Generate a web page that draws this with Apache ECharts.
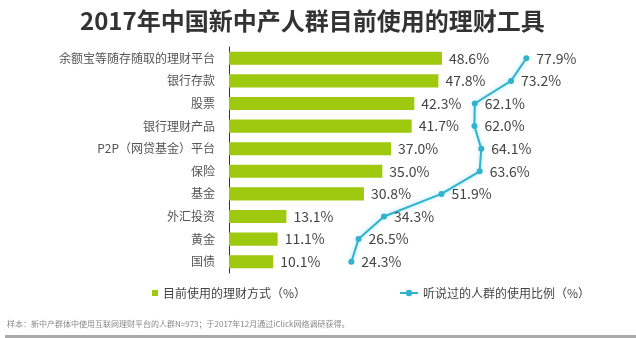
<!DOCTYPE html>
<html>
<head>
<meta charset="utf-8">
<script src="https://cdn.jsdelivr.net/npm/echarts@6/dist/echarts.min.js"></script>
<style>
html,body{margin:0;padding:0;background:#fff;}
#c{width:636px;height:338px;}
</style>
</head>
<body>
<div id="c"></div>
<script>
const titleText = '2017年中国新中产人群目前使用的理财工具';
const categories = ['余额宝等随存随取的理财平台','银行存款','股票','银行理财产品','P2P（网贷基金）平台','保险','基金','外汇投资','黄金','国债'];
const usedValues = [48.6,47.8,42.3,41.7,37.0,35.0,30.8,13.1,11.1,10.1];
const heardValues = [77.9,73.2,62.1,62.0,64.1,63.6,51.9,34.3,26.5,24.3];
const seriesNames = ['目前使用的理财方式（%）','听说过的人群的使用比例（%）'];
const footnote = '样本：新中产群体中使用互联网理财平台的人群N=973；于2017年12月通过iClick网络调研获得。';

const FONT = '"Noto Sans CJK SC","Noto Sans",sans-serif';
const chart = echarts.init(document.getElementById('c'), null, {renderer:'canvas'});
chart.setOption({
  backgroundColor:'#fff',
  animation:false,
  textStyle:{fontFamily:FONT},
  title:{
    text:titleText, left:75, top:4,
    textStyle:{fontSize:24, fontWeight:'bold', color:'#333', fontFamily:FONT}
  },
  legend:[
    {data:[seriesNames[0]], left:147, top:282, itemWidth:6, itemHeight:6, icon:'rect',
     textStyle:{fontSize:12, color:'#444', fontFamily:FONT}},
    {data:[seriesNames[1]], left:394, top:282, itemWidth:18, itemHeight:8,
     textStyle:{fontSize:12, color:'#444', fontFamily:FONT}}
  ],
  grid:{left:229, top:47, width:400, height:226, containLabel:false},
  xAxis:[
    {type:'value', min:0, max:91.3, show:false, splitLine:{show:false}},
    {type:'value', min:-13.17, max:109.34, show:false, splitLine:{show:false}}
  ],
  yAxis:{
    type:'category', data:categories, inverse:true,
    axisLine:{show:true, lineStyle:{color:'#333', width:1}},
    axisTick:{show:false},
    axisLabel:{margin:14, fontSize:12, color:'#555', fontFamily:FONT}
  },
  series:[
    {
      name:seriesNames[0], type:'bar', xAxisIndex:0, data:usedValues,
      barCategoryGap:'42%',
      itemStyle:{color:'#9ec90e'},
      label:{show:true, position:'right', distance:7, fontSize:14, color:'#444', fontFamily:FONT,
        formatter:p=>p.value.toFixed(1)+'%'}
    },
    {
      name:seriesNames[1], type:'line', xAxisIndex:1, data:heardValues,
      symbol:'circle', symbolSize:6,
      itemStyle:{color:'#2fb3cf'},
      lineStyle:{color:'#2fb3cf', width:2, shadowColor:'rgba(90,205,235,0.6)', shadowBlur:4},
      label:{show:true, position:'right', distance:7, fontSize:14, color:'#444', fontFamily:FONT,
        formatter:p=>p.value.toFixed(1)+'%'}
    }
  ],
  graphic:[
    {type:'text', left:7, top:320, style:{text:footnote, fontSize:8, fill:'#888', fontFamily:FONT}},
    {type:'rect', left:5, top:335, shape:{width:631, height:3}, style:{fill:'#aaa'}}
  ]
});
</script>
</body>
</html>
